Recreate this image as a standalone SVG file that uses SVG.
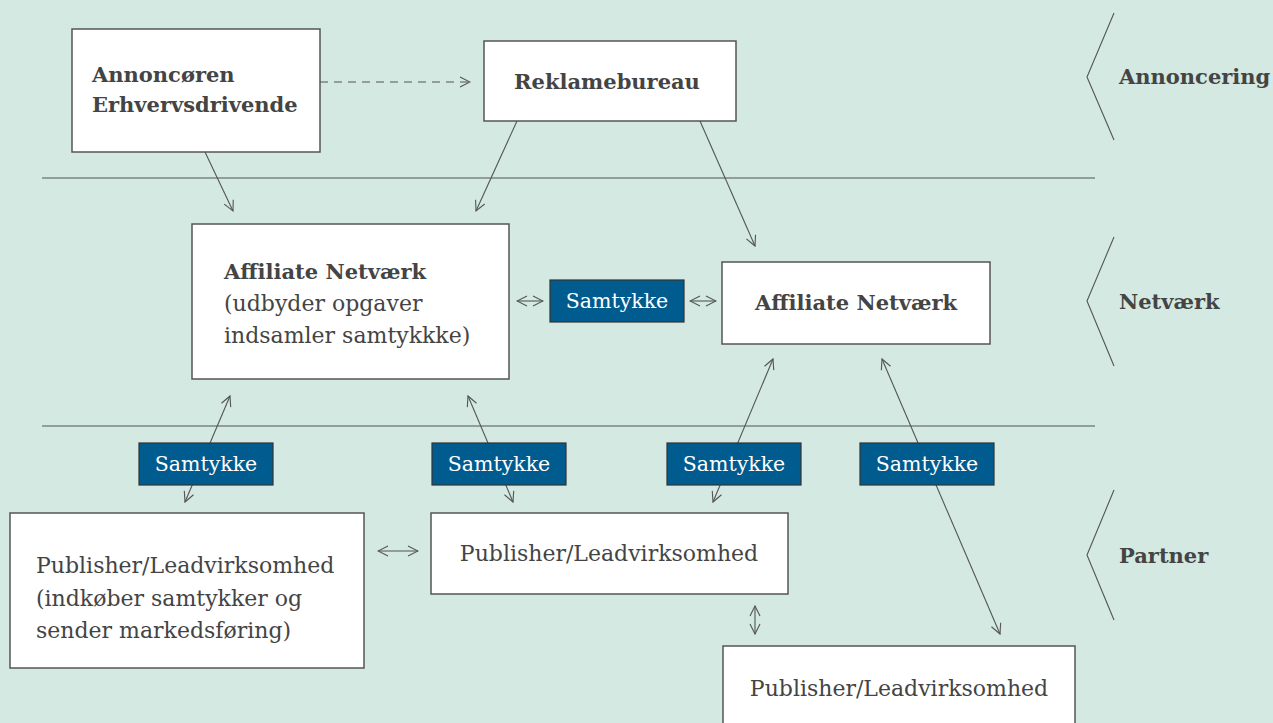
<svg xmlns="http://www.w3.org/2000/svg" width="1273" height="723" viewBox="0 0 1273 723">
<defs>
<marker id="ah" viewBox="0 0 12 12" refX="11" refY="6" markerWidth="12" markerHeight="12" markerUnits="userSpaceOnUse" orient="auto-start-reverse">
<path d="M1,1 L11,6 L1,11" fill="none" stroke="#555" stroke-width="1.1"/>
</marker>
</defs>
<style>
.bg{fill:#d3e9e1}
.box{fill:#fff;stroke:#555;stroke-width:1.5}
.st{fill:#005b8e;stroke:#333;stroke-width:1.2}
.t{font-family:"DejaVu Serif","Liberation Serif",serif;font-size:22px;fill:#444}
.b{font-weight:bold;font-size:21px}
.w{fill:#fff;font-size:20.5px}
.c{stroke:#555;stroke-width:1.1;fill:none}
.a{marker-end:url(#ah)}
.d{marker-start:url(#ah);marker-end:url(#ah)}
</style>
<rect class="bg" x="0" y="0" width="1273" height="723"/>
<g id="layers">
<line class="c" x1="42" y1="178" x2="1095" y2="178"/>
<line class="c" x1="42" y1="426" x2="1095" y2="426"/>
<polyline class="c" points="1114,13 1087,77 1114,140"/>
<polyline class="c" points="1114,237 1087,301 1114,366"/>
<polyline class="c" points="1114,490 1087,555 1114,620"/>
<text class="t b" x="1119" y="84">Annoncering</text>
<text class="t b" x="1119" y="309">Netværk</text>
<text class="t b" x="1119" y="563">Partner</text>
</g>
<g id="connectors">
<line class="c a" x1="320" y1="82" x2="470" y2="82" stroke-dasharray="8,6"/>
<line class="c a" x1="205" y1="152" x2="233" y2="211"/>
<line class="c a" x1="517" y1="121" x2="476" y2="211"/>
<line class="c a" x1="700" y1="121" x2="755" y2="246"/>
<line class="c d" x1="517" y1="301" x2="543" y2="301"/>
<line class="c d" x1="690" y1="301" x2="716" y2="301"/>
<line class="c d" x1="230" y1="396" x2="185" y2="502"/>
<line class="c d" x1="468" y1="396" x2="513" y2="502"/>
<line class="c d" x1="773" y1="359" x2="713" y2="502"/>
<line class="c d" x1="882" y1="359" x2="1000" y2="634"/>
<line class="c d" x1="378" y1="551" x2="418" y2="551"/>
<line class="c d" x1="755" y1="606" x2="755" y2="634"/>
</g>
<g id="n-annoncoren">
<rect class="box" x="72" y="29" width="248" height="123"/>
<text class="t b" x="92" y="82">Annoncøren</text>
<text class="t b" x="92" y="112">Erhvervsdrivende</text>
</g>
<g id="n-reklamebureau">
<rect class="box" x="484" y="41" width="252" height="80"/>
<text class="t b" x="607" y="89" text-anchor="middle">Reklamebureau</text>
</g>
<g id="n-affiliate1">
<rect class="box" x="192" y="224" width="317" height="155"/>
<text class="t b" x="224" y="279">Affiliate Netværk</text>
<text class="t" x="224" y="311">(udbyder opgaver</text>
<text class="t" x="224" y="343">indsamler samtykkke)</text>
</g>
<g id="n-samtykke0">
<rect class="st" x="550" y="280" width="134" height="42"/>
<text class="t w" x="617" y="308" text-anchor="middle">Samtykke</text>
</g>
<g id="n-affiliate2">
<rect class="box" x="722" y="262" width="268" height="82"/>
<text class="t b" x="856" y="310" text-anchor="middle">Affiliate Netværk</text>
</g>
<g id="n-samtykke1">
<rect class="st" x="139" y="443" width="134" height="42"/>
<text class="t w" x="206" y="471" text-anchor="middle">Samtykke</text>
</g>
<g id="n-samtykke2">
<rect class="st" x="432" y="443" width="134" height="42"/>
<text class="t w" x="499" y="471" text-anchor="middle">Samtykke</text>
</g>
<g id="n-samtykke3">
<rect class="st" x="667" y="443" width="134" height="42"/>
<text class="t w" x="734" y="471" text-anchor="middle">Samtykke</text>
</g>
<g id="n-samtykke4">
<rect class="st" x="860" y="443" width="134" height="42"/>
<text class="t w" x="927" y="471" text-anchor="middle">Samtykke</text>
</g>
<g id="n-publisher1">
<rect class="box" x="10" y="513" width="354" height="155"/>
<text class="t" x="36" y="573">Publisher/Leadvirksomhed</text>
<text class="t" x="36" y="606">(indkøber samtykker og</text>
<text class="t" x="36" y="638">sender markedsføring)</text>
</g>
<g id="n-publisher2">
<rect class="box" x="431" y="513" width="357" height="81"/>
<text class="t" x="609" y="561" text-anchor="middle">Publisher/Leadvirksomhed</text>
</g>
<g id="n-publisher3">
<rect class="box" x="723" y="646" width="352" height="90"/>
<text class="t" x="899" y="696" text-anchor="middle">Publisher/Leadvirksomhed</text>
</g>
</svg>
